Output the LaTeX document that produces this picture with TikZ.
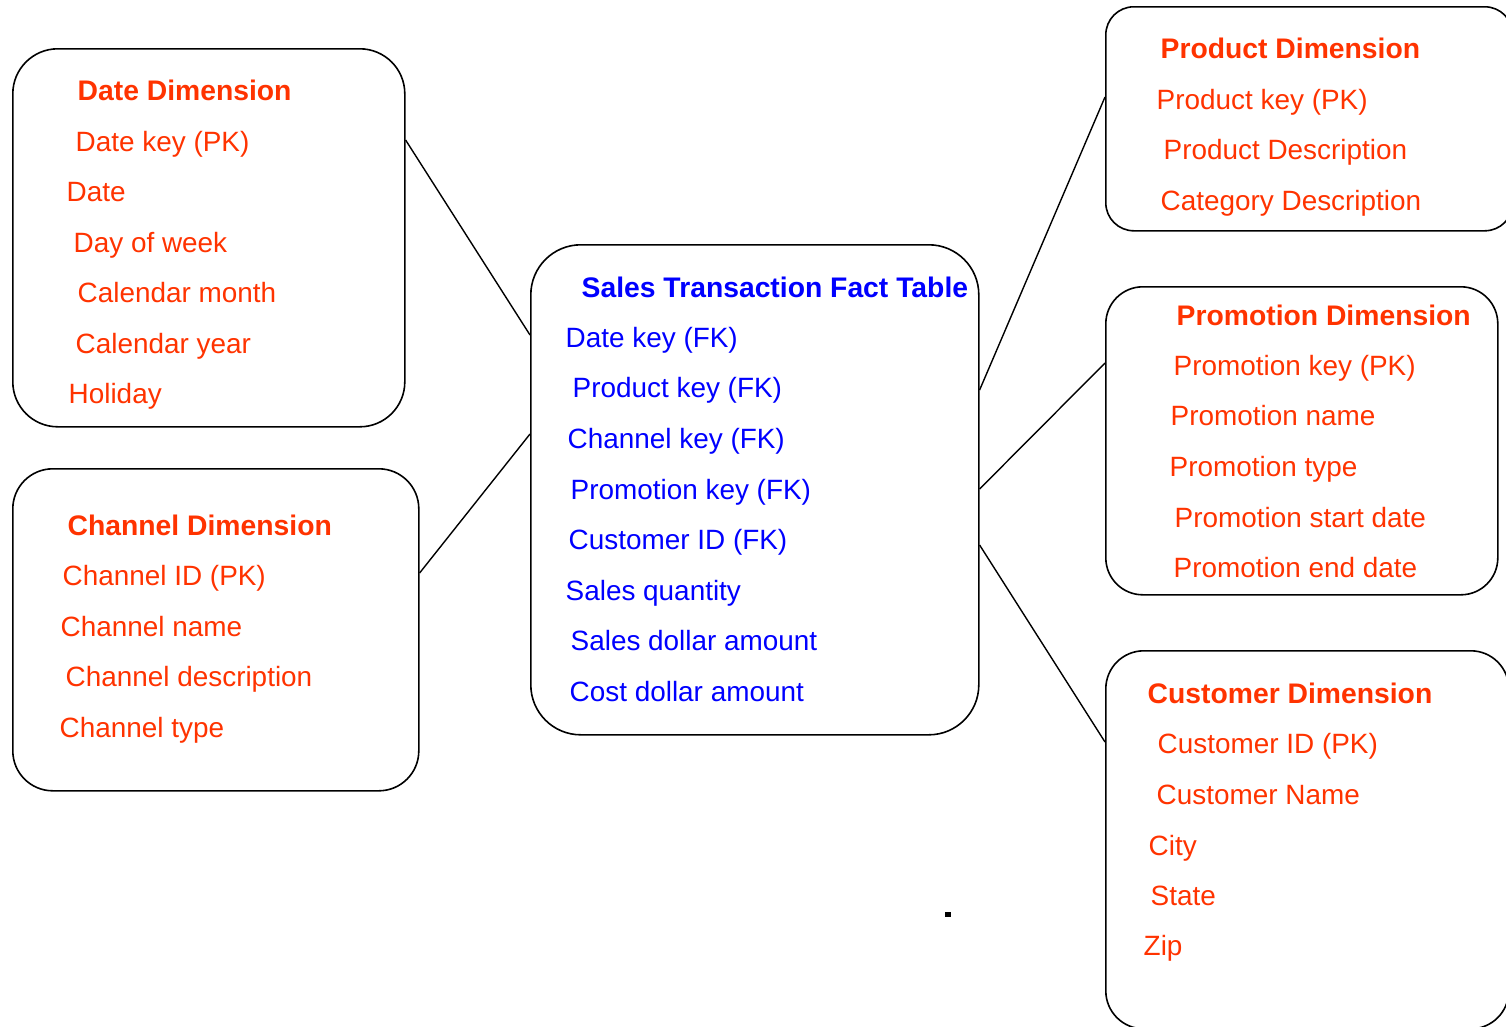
\documentclass[tikz,border=0pt]{standalone}
\usepackage{fontspec}
\setmainfont{Liberation Sans}
\usetikzlibrary{calc}
\definecolor{dimred}{RGB}{255,51,0}
\definecolor{factblue}{RGB}{0,0,255}
\begin{document}
\begin{tikzpicture}[x=1pt,y=-1pt,
    box/.style={draw=black, line width=1.6pt, anchor=north west, inner sep=0pt},
    dimtitle/.style={anchor=base west, inner sep=0pt, xshift=1.5pt, text=dimred, font=\fontsize{28.3}{34}\selectfont\bfseries},
    dimtext/.style={anchor=base west, inner sep=0pt, xshift=1.5pt, text=dimred, font=\fontsize{27.9}{34}\selectfont},
    facttitle/.style={anchor=base west, inner sep=0pt, xshift=1.5pt, text=factblue, font=\fontsize{28.3}{34}\selectfont\bfseries},
    facttext/.style={anchor=base west, inner sep=0pt, xshift=1.5pt, text=factblue, font=\fontsize{27.9}{34}\selectfont},
    link/.style={draw=black, line width=1.4pt}]
    \clip (0,0) rectangle (1506,1026);
    % boxes
    \node[box, minimum width=392pt, minimum height=378pt, rounded corners=45pt] (date) at (12,48) {};
    \node[box, minimum width=406pt, minimum height=322pt, rounded corners=40pt] (channel) at (12,468) {};
    \node[box, minimum width=448pt, minimum height=490pt, rounded corners=50pt] (fact) at (530,244) {};
    \node[box, minimum width=407pt, minimum height=224pt, rounded corners=28pt] (product) at (1105,6) {};
    \node[box, minimum width=392pt, minimum height=308pt, rounded corners=37pt] (promo) at (1105,286) {};
    \node[box, minimum width=403pt, minimum height=378pt, rounded corners=38pt] (customer) at (1105,650) {};
    % date dimension
    \node[dimtitle] (dateT) at (76,100) {Date Dimension};
    \node[dimtext] (date1) at (74,151) {Date key (PK)};
    \node[dimtext] (date2) at (65,201) {Date};
    \node[dimtext] (date3) at (72,252) {Day of week};
    \node[dimtext] (date4) at (76,302) {Calendar month};
    \node[dimtext] (date5) at (74,353) {Calendar year};
    \node[dimtext] (date6) at (67,403) {Holiday};
    % channel dimension
    \node[dimtitle] (chanT) at (66,535) {Channel Dimension};
    \node[dimtext] (chan1) at (61,585) {Channel ID (PK)};
    \node[dimtext] (chan2) at (59,636) {Channel name};
    \node[dimtext] (chan3) at (64,686) {Channel description};
    \node[dimtext] (chan4) at (58,737) {Channel type};
    % fact table
    \node[facttitle] (factT) at (580,297) {Sales Transaction Fact Table};
    \node[facttext] (fact1) at (564,347) {Date key (FK)};
    \node[facttext] (fact2) at (571,397) {Product key (FK)};
    \node[facttext] (fact3) at (566,448) {Channel key (FK)};
    \node[facttext] (fact4) at (569,499) {Promotion key (FK)};
    \node[facttext] (fact5) at (567,549) {Customer ID (FK)};
    \node[facttext] (fact6) at (564,600) {Sales quantity};
    \node[facttext] (fact7) at (569,650) {Sales dollar amount};
    \node[facttext] (fact8) at (568,701) {Cost dollar amount};
    % product dimension
    \node[dimtitle] (prodT) at (1159,58) {Product Dimension};
    \node[dimtext] (prod1) at (1155,109) {Product key (PK)};
    \node[dimtext] (prod2) at (1162,159) {Product Description};
    \node[dimtext] (prod3) at (1159,210) {Category Description};
    % promotion dimension
    \node[dimtitle] (promT) at (1175,325) {Promotion Dimension};
    \node[dimtext] (prom1) at (1172,375) {Promotion key (PK)};
    \node[dimtext] (prom2) at (1169,425) {Promotion name};
    \node[dimtext] (prom3) at (1168,476) {Promotion type};
    \node[dimtext] (prom4) at (1173,527) {Promotion start date};
    \node[dimtext] (prom5) at (1172,577) {Promotion end date};
    % customer dimension
    \node[dimtitle] (custT) at (1146,703) {Customer Dimension};
    \node[dimtext] (cust1) at (1156,753) {Customer ID (PK)};
    \node[dimtext] (cust2) at (1155,804) {Customer Name};
    \node[dimtext] (cust3) at (1147,855) {City};
    \node[dimtext] (cust4) at (1149,905) {State};
    \node[dimtext] (cust5) at (1142,955) {Zip};
    % links
    \draw[link] ($(date.north east)+(0,92)$) -- ($(fact.north west)+(0,91)$);
    \draw[link] ($(channel.north east)+(0,105)$) -- ($(fact.north west)+(0,190)$);
    \draw[link] ($(fact.north east)+(0,146)$) -- ($(product.north west)+(0,91)$);
    \draw[link] ($(fact.north east)+(0,245)$) -- ($(promo.north west)+(0,77)$);
    \draw[link] ($(fact.north east)+(0,301)$) -- ($(customer.north west)+(0,92)$);
    % stray dot
    \fill[black] (945,912) rectangle (950.5,917);
\end{tikzpicture}
\end{document}
